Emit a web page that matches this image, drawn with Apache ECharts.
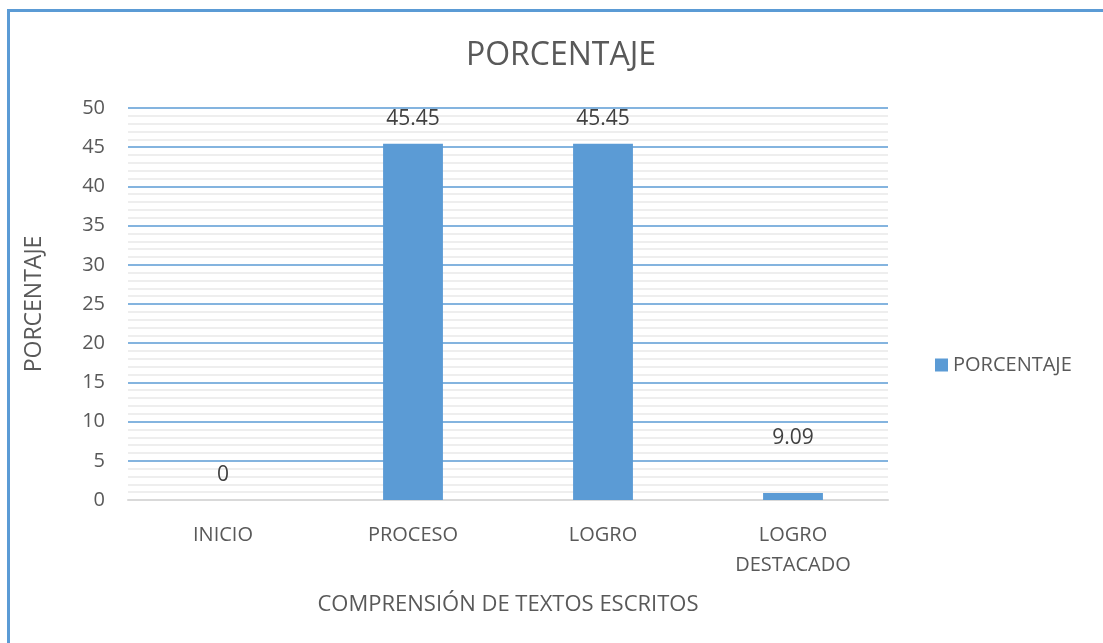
<!DOCTYPE html>
<html>
<head>
<meta charset="utf-8">
<script src="https://cdn.jsdelivr.net/npm/echarts@6/dist/echarts.min.js"></script>
<style>
    html, body { margin: 0; padding: 0; background: #ffffff; }
    #frame {
        position: absolute; left: 7px; top: 9px; width: 1093px; height: 640px;
        border-left: 3px solid #5b9bd5; border-top: 3px solid #5b9bd5;
        border-right: 1px solid #dbe7f3;
    }
    #chart { position: absolute; left: 0; top: 0; width: 1103px; height: 643px; }
</style>
</head>
<body>
<div id="frame"></div>
<div id="chart"></div>
<script>
// Datos del gráfico
var categorias = ['INICIO', 'PROCESO', 'LOGRO', 'LOGRO\nDESTACADO'];
var valores = [0, 45.45, 45.45, 0.9];
var etiquetas = ['0', '45.45', '45.45', '9.09'];
var ticksY = [0, 5, 10, 15, 20, 25, 30, 35, 40, 45, 50];

var fuente = '"Open Sans", "Noto Sans", sans-serif';
var gris = '#595959';

var chart = echarts.init(document.getElementById('chart'));

var option = {
    animation: false,
    textStyle: { fontFamily: fuente },
    title: {
        text: 'PORCENTAJE',
        left: 556, top: 35, textAlign: 'center',
        textStyle: { fontFamily: fuente, fontSize: 32, fontWeight: 'normal', color: gris }
    },
    legend: {
        data: ['PORCENTAJE'],
        orient: 'vertical',
        left: 930, top: 350,
        itemWidth: 13, itemHeight: 13, itemGap: 6,
        icon: 'rect',
        textStyle: { fontFamily: fuente, fontSize: 20, color: gris }
    },
    grid: { left: 128, right: 215, top: 108, bottom: 143, containLabel: false },
    xAxis: {
        type: 'category',
        data: categorias,
        name: 'COMPRENSIÓN DE TEXTOS ESCRITOS',
        nameLocation: 'middle',
        nameGap: 94,
        nameTextStyle: { fontFamily: fuente, fontSize: 22, color: gris },
        axisLine: { lineStyle: { color: '#d9d9d9', width: 2 } },
        axisTick: { show: false },
        axisLabel: { fontFamily: fuente, fontSize: 20, color: gris, margin: 20, lineHeight: 30 }
    },
    yAxis: {
        type: 'value',
        min: ticksY[0],
        max: ticksY[ticksY.length - 1],
        interval: 5,
        name: 'PORCENTAJE',
        nameLocation: 'middle',
        nameGap: 82,
        nameRotate: 90,
        nameTextStyle: { fontFamily: fuente, fontSize: 23, color: gris },
        axisLine: { show: false },
        axisTick: { show: false },
        axisLabel: { fontFamily: fuente, fontSize: 20, color: gris, margin: 23 },
        splitLine: { lineStyle: { color: '#5b9bd5', width: 1.5 } },
        minorTick: { show: false, splitNumber: 5 },
        minorSplitLine: { show: true, lineStyle: { color: '#eeeeee', width: 2 } }
    },
    series: [{
        name: 'PORCENTAJE',
        type: 'bar',
        barWidth: '31.5%',
        itemStyle: { color: '#5b9bd5' },
        label: {
            show: true,
            position: 'top',
            distance: 14,
            fontFamily: fuente,
            fontSize: 21,
            color: '#404040',
            formatter: function (p) { return etiquetas[p.dataIndex]; }
        },
        data: valores.map(function (v, i) {
            if (i === 3) {
                return { value: v, label: { distance: 44 } };
            }
            return v;
        })
    }]
};

chart.setOption(option);
</script>
</body>
</html>
